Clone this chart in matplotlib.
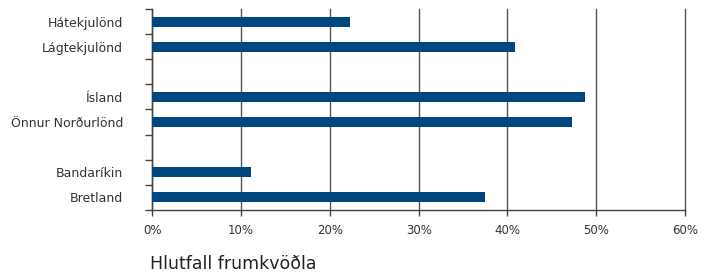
import matplotlib.pyplot as plt
import numpy as np

# categories top to bottom, blanks are spacer slots
labels = ["Hátekjulönd", "Lágtekjulönd", "", "Ísland", "Önnur Norðurlönd", "", "Bandaríkin", "Bretland"]
values = [22.3, 40.8, None, 48.7, 47.3, None, 11.1, 37.5]
xticks = [0, 10, 20, 30, 40, 50, 60]

plt.rcParams["font.family"] = ["DejaVu Sans"]
fig = plt.figure(figsize=(7.1, 2.72), dpi=100)
ax = fig.add_axes([0.2145, 0.228, 0.7503, 0.739])

ypos = np.arange(len(labels))
for y, v in zip(ypos, values):
    if v is not None:
        ax.barh(y, v, height=0.4, color="#00467f", zorder=3)

ax.set_ylim(len(labels) - 0.5, -0.5)
ax.set_xlim(0, 60)
# y ticks sit on the slot borders, labels in the middle of each slot
ax.set_yticks(np.arange(len(labels) + 1) - 0.5)
ax.set_yticklabels([])
ax.set_yticks(ypos, minor=True)
ax.set_yticklabels(labels, minor=True, fontsize=9, color="#333333")
ax.tick_params(axis="y", which="minor", length=0, pad=21)
ax.tick_params(axis="y", which="major", length=5, width=1, color="#444444")

ax.set_xticks(xticks)
ax.set_xticklabels([f"{t}%" for t in xticks], fontsize=8.5, color="#333333")
ax.tick_params(axis="x", length=4, width=1, color="#444444", pad=6)
ax.grid(axis="x", color="#555555", linewidth=1, zorder=0)
for gl in ax.get_xgridlines():
    gl.set_clip_on(False)

for s in ["top", "right"]:
    ax.spines[s].set_visible(False)
for s in ["left", "bottom"]:
    ax.spines[s].set_color("#444444")
    ax.spines[s].set_linewidth(1)

fig.text(0.211, 0.01, "Hlutfall frumkvöðla", fontsize=12.5, color="#222222", ha="left", va="baseline")

fig.savefig("out.png", dpi=100)
